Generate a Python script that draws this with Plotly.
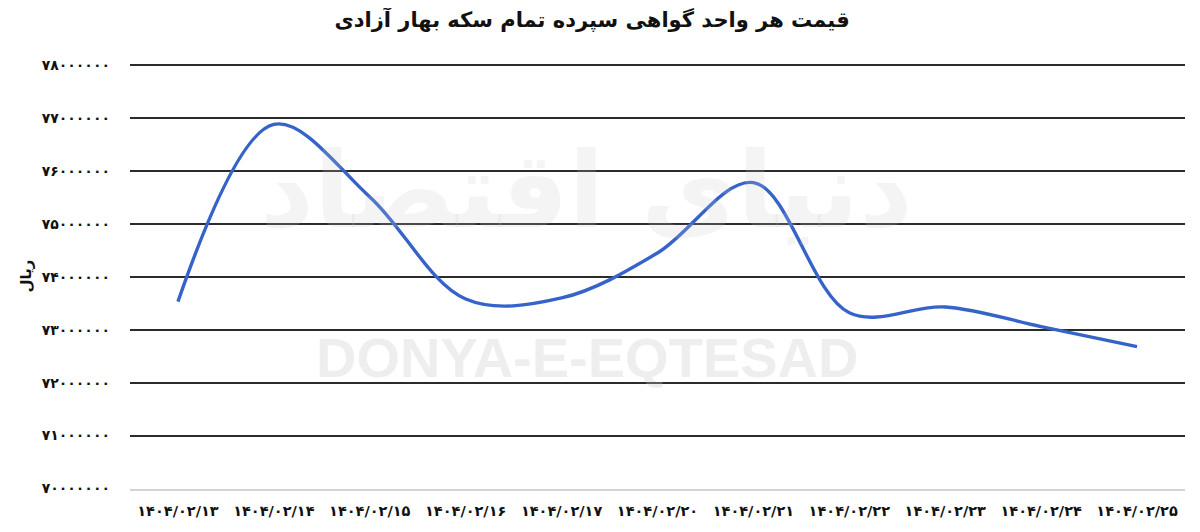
import plotly.graph_objects as go

FA = str.maketrans("0123456789", "۰۱۲۳۴۵۶۷۸۹")

dates = ["1404/02/13", "1404/02/14", "1404/02/15", "1404/02/16", "1404/02/17",
         "1404/02/20", "1404/02/21", "1404/02/22", "1404/02/23", "1404/02/24", "1404/02/25"]
prices = [73530000, 76880000, 75510000, 73580000, 73600000,
          74450000, 75780000, 73320000, 73430000, 73060000, 72680000]
y_ticks = [70000000, 71000000, 72000000, 73000000, 74000000,
           75000000, 76000000, 77000000, 78000000]

title_text = "قیمت هر واحد گواهی سپرده تمام سکه بهار آزادی"
y_title = "ریال"
watermark_en = "DONYA-E-EQTESAD"
watermark_fa = "دنیای اقتصاد"

x_labels = [d.translate(FA) for d in dates]
y_labels = [str(v).translate(FA) for v in y_ticks]

fig = go.Figure()
fig.add_trace(go.Scatter(
    x=list(range(len(dates))), y=prices, mode="lines",
    line=dict(color="#3563c9", width=3.4, shape="spline", smoothing=1.0),
    hoverinfo="skip", showlegend=False,
))

font_b = "DejaVu Sans"
fig.update_layout(
    width=1192, height=524,
    margin=dict(l=122, r=15, t=55, b=43, autoexpand=False),
    paper_bgcolor="white", plot_bgcolor="white",
    title=dict(text="<b>" + title_text + "</b>", x=0.49, xanchor="center",
               y=0.977, yanchor="middle",
               font=dict(family=font_b, size=21, color="#111")),
    xaxis=dict(
        range=[-0.5, len(dates) - 0.5], automargin=False,
        tickvals=list(range(len(dates))), ticktext=["<b>" + t + "</b>" for t in x_labels],
        showgrid=False, zeroline=False,
        showline=True, linecolor="#d4d4d4", linewidth=2,
        ticks="", ticklabelstandoff=8,
        tickfont=dict(family=font_b, size=14.5, color="#111"),
    ),
    yaxis=dict(
        range=[69990000, 78040000], automargin=False,
        tickvals=y_ticks, ticktext=["<b>" + t + "</b>" for t in y_labels],
        showgrid=True, gridcolor="#2b2b2b", gridwidth=1.6,
        zeroline=False, showline=False, ticks="",
        ticklabelstandoff=19,
        tickfont=dict(family=font_b, size=14, color="#111"),
        title=dict(text="<b>" + y_title + "</b>", standoff=6,
                   font=dict(family=font_b, size=15, color="#111")),
    ),
    annotations=[
        dict(text="<b>" + watermark_en + "</b>", x=0.433, y=0.309, xref="paper", yref="paper",
             xanchor="center", yanchor="middle",
             showarrow=False, font=dict(family="Liberation Sans", size=56,
                                         color="rgba(200,200,200,0.3)")),
        dict(text="<b>" + watermark_fa + "</b>", x=0.433, y=0.70, xref="paper", yref="paper",
             xanchor="center", yanchor="middle",
             showarrow=False, font=dict(family=font_b, size=105,
                                         color="rgba(200,200,200,0.2)")),
    ],
)

fig.write_html("out.html")
